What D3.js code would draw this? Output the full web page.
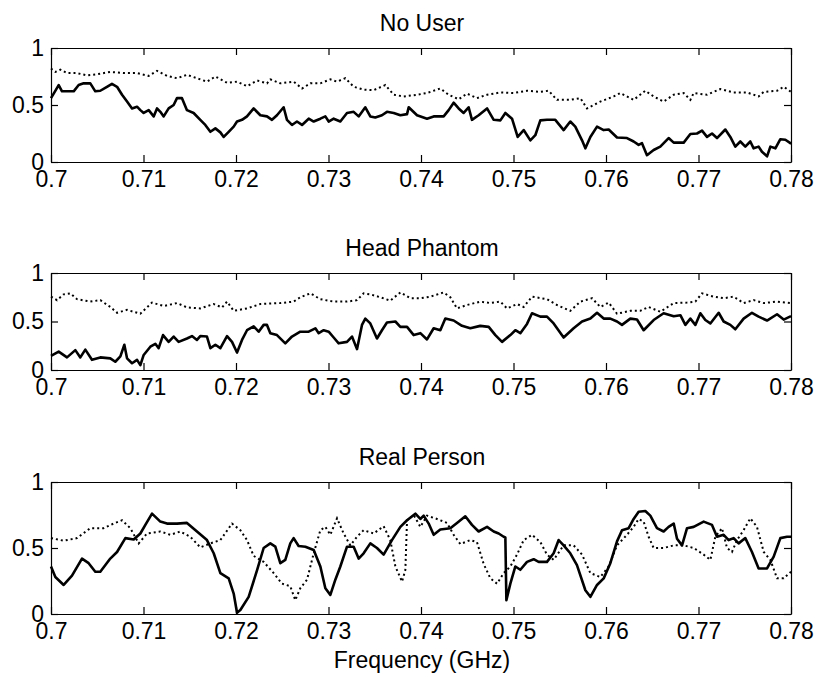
<!DOCTYPE html>
<html>
<head>
<meta charset="utf-8">
<script src="https://cdn.jsdelivr.net/npm/d3@7"></script>
<style>
  body { margin: 0; background: #fff; }
  svg { display: block; font-family: "Liberation Sans", Arial, Helvetica, sans-serif; }
</style>
</head>
<body>
<div id="chart"></div>
<script>
// frequency in MHz
const noUserSolid = [
  [700,0.56],[700.29,0.60],[700.83,0.675],[701.19,0.62],[701.73,0.62],[702.45,0.62],[702.99,0.675],[703.53,0.69],[704.25,0.69],[704.79,0.62],
  [705.33,0.625],[706.05,0.66],[706.59,0.685],[707.14,0.66],[707.68,0.59],[708.22,0.53],[708.76,0.47],[709.30,0.485],[709.66,0.455],[710.02,0.43],
  [710.56,0.455],[711.10,0.40],[711.46,0.47],[711.82,0.44],[712.18,0.40],[712.72,0.47],[713.26,0.50],[713.62,0.56],[714.16,0.56],[714.70,0.455],
  [715.42,0.43],[716.14,0.37],[716.68,0.325],[717.23,0.265],[717.77,0.295],[718.31,0.26],[718.67,0.22],[719.21,0.265],[719.75,0.31],[720.11,0.355],
  [720.65,0.37],[721.19,0.40],[721.91,0.47],[722.63,0.41],[723.35,0.40],[723.89,0.37],[724.43,0.41],[725.15,0.48],[725.51,0.37],[726.05,0.325],
  [726.59,0.355],[727.14,0.325],[727.86,0.38],[728.40,0.355],[729.12,0.38],[729.66,0.40],[730.02,0.355],[730.56,0.38],[731.28,0.355],[732.00,0.43],
  [732.72,0.44],[733.26,0.40],[733.98,0.48],[734.52,0.40],[735.06,0.39],[735.78,0.41],[736.32,0.44],[737.05,0.43],[737.77,0.41],[738.49,0.42],
  [738.67,0.48],[739.57,0.41],[740.65,0.38],[741.37,0.40],[742.45,0.40],[742.99,0.455],[743.53,0.52],[744.07,0.47],[744.61,0.43],[745.15,0.48],
  [745.51,0.37],[746.23,0.41],[747.14,0.47],[747.86,0.37],[748.58,0.365],[749.12,0.43],[749.84,0.38],[750.45,0.22],[751.10,0.28],[751.82,0.19],
  [752.36,0.235],[752.90,0.365],[753.62,0.37],[754.52,0.37],[755.42,0.28],[756.14,0.355],[756.68,0.31],[757.41,0.19],[757.77,0.12],[758.31,0.22],
  [759.03,0.31],[759.75,0.28],[760.29,0.285],[761.19,0.215],[762.27,0.21],[762.99,0.18],[763.53,0.15],[763.89,0.165],[764.43,0.06],[765.15,0.105],
  [765.87,0.135],[766.77,0.21],[767.32,0.17],[768.40,0.17],[769.12,0.245],[769.84,0.25],[770.38,0.275],[770.92,0.22],[771.46,0.25],[772.00,0.21],
  [772.90,0.285],[773.44,0.22],[773.98,0.135],[774.52,0.18],[775.06,0.135],[775.60,0.18],[775.96,0.12],[776.50,0.135],[776.86,0.09],[777.41,0.05],
  [777.77,0.135],[778.31,0.12],[778.85,0.20],[779.39,0.195],[779.93,0.165],[780,0.165]
];
const noUserDotted = [
  [700,0.82],[700.47,0.79],[701.01,0.81],[701.73,0.78],[702.81,0.78],[703.89,0.76],[704.97,0.77],[706.41,0.79],[707.86,0.78],[709.30,0.78],
  [710.56,0.755],[711.46,0.80],[712.54,0.755],[713.62,0.735],[714.70,0.765],[715.78,0.735],[716.86,0.705],[717.77,0.75],[719.03,0.695],[720.11,0.705],
  [721.19,0.665],[722.27,0.715],[723.35,0.69],[723.71,0.725],[724.79,0.69],[726.23,0.705],[727.14,0.645],[728.04,0.69],[729.12,0.69],[730.20,0.725],
  [730.92,0.705],[731.82,0.735],[732.72,0.66],[733.80,0.635],[734.88,0.63],[736.14,0.675],[737.05,0.59],[738.13,0.575],[739.57,0.59],
  [740.65,0.605],[742.09,0.645],[742.99,0.59],[744.07,0.55],[744.97,0.60],[746.05,0.56],[747.14,0.59],[748.58,0.61],[750.02,0.605],[751.46,0.625],
  [752.90,0.615],[753.80,0.625],[754.70,0.545],[756.14,0.545],[757.23,0.56],[757.95,0.47],[759.39,0.53],[760.83,0.575],[761.55,0.605],[762.99,0.545],
  [764.25,0.625],[765.15,0.575],[766.23,0.53],[767.32,0.59],[768.40,0.605],[769.12,0.545],[769.48,0.605],[770.92,0.59],[772.36,0.64],[773.80,0.61],
  [775.24,0.61],[776.50,0.575],[777.05,0.615],[778.49,0.625],[779.21,0.66],[780,0.615]
];
const headSolid = [
  [700,0.145],[700.83,0.19],[701.73,0.13],[702.63,0.205],[703.17,0.13],[703.71,0.21],[704.43,0.105],[705.33,0.13],[706.41,0.12],[706.95,0.085],
  [707.50,0.14],[707.93,0.26],[708.22,0.12],[708.76,0.07],[709.30,0.105],[709.66,0.05],[710.02,0.155],[710.74,0.24],[711.28,0.27],[711.64,0.225],
  [712.11,0.36],[712.72,0.29],[713.26,0.345],[713.80,0.29],[714.70,0.325],[715.24,0.35],[715.78,0.31],[716.14,0.35],[716.86,0.345],[717.23,0.225],
  [717.77,0.26],[718.31,0.225],[719.03,0.35],[719.57,0.29],[720.11,0.18],[720.65,0.31],[721.19,0.41],[721.91,0.45],[722.45,0.395],[722.99,0.465],
  [723.35,0.465],[723.71,0.38],[724.43,0.36],[725.33,0.275],[726.05,0.345],[726.95,0.395],[727.86,0.395],[728.58,0.43],[728.94,0.38],[729.48,0.41],
  [730.02,0.395],[730.56,0.335],[731.10,0.275],[732.00,0.29],[732.54,0.345],[733.08,0.215],[733.62,0.465],[733.98,0.53],[734.52,0.48],[735.24,0.325],
  [735.78,0.41],[736.32,0.49],[737.23,0.50],[737.77,0.445],[738.49,0.445],[739.21,0.36],[739.93,0.38],
  [740.65,0.315],[741.37,0.43],[742.09,0.41],[742.63,0.53],[743.53,0.51],[744.43,0.455],[745.33,0.43],[746.41,0.455],[747.32,0.445],[748.04,0.36],
  [748.76,0.29],[749.66,0.36],[750.20,0.41],[750.74,0.38],[751.46,0.475],[752.00,0.585],[752.90,0.55],[753.62,0.55],[754.34,0.48],[755.42,0.335],
  [756.50,0.43],[757.41,0.50],[758.31,0.53],[759.03,0.59],[759.75,0.53],[760.47,0.53],[761.19,0.50],[761.73,0.465],[762.63,0.53],[763.35,0.52],
  [764.07,0.41],[765.15,0.515],[766.23,0.585],[767.32,0.555],[768.04,0.565],[768.58,0.465],[769.12,0.53],[769.66,0.465],[770.20,0.585],[770.74,0.515],
  [771.28,0.48],[772.18,0.59],[772.72,0.50],[773.44,0.465],[773.98,0.42],[774.88,0.53],[775.78,0.59],[776.50,0.55],[777.41,0.51],[778.49,0.575],
  [779.21,0.52],[780,0.555]
];
const headDotted = [
  [700,0.756],[700.65,0.72],[701.37,0.78],[702.09,0.79],[702.81,0.73],[704.25,0.705],[705.33,0.72],[706.41,0.65],[707.14,0.59],[708.22,0.62],
  [709.66,0.58],[710.92,0.695],[712.18,0.66],[713.62,0.69],[714.70,0.645],[716.14,0.635],[717.59,0.68],[718.49,0.645],[719.03,0.705],[719.75,0.61],
  [721.19,0.635],[722.63,0.68],[724.79,0.69],[726.23,0.705],[726.95,0.75],[728.04,0.79],[729.12,0.73],[730.56,0.705],[732.00,0.705],[733.08,0.72],
  [733.80,0.79],[734.52,0.78],[735.60,0.75],[736.68,0.715],[737.77,0.80],[738.85,0.74],[739.93,0.74],
  [741.01,0.756],[742.45,0.80],[743.17,0.75],[743.89,0.635],[744.97,0.67],[746.41,0.705],[747.50,0.69],[748.58,0.705],[749.30,0.635],[750.38,0.68],
  [751.10,0.65],[752.00,0.756],[753.62,0.73],[754.70,0.67],[756.14,0.61],[757.23,0.705],[758.49,0.74],[759.39,0.65],[760.29,0.695],[761.19,0.58],
  [762.63,0.61],[763.71,0.61],[764.61,0.65],[765.87,0.60],[767.32,0.69],[768.76,0.695],[769.66,0.705],[770.38,0.79],[771.64,0.756],[772.72,0.74],
  [773.80,0.756],[774.88,0.69],[775.96,0.72],[777.05,0.69],[778.49,0.705],[780,0.69]
];
const personSolid = [
  [700,0.36],[700.47,0.28],[701.37,0.22],[702.27,0.29],[703.35,0.42],[704.07,0.385],[704.79,0.32],[705.33,0.32],[706.41,0.42],[707.14,0.47],
  [708.04,0.575],[708.94,0.565],[709.66,0.61],[710.20,0.675],[710.92,0.76],[711.82,0.70],[712.54,0.685],[713.62,0.685],[714.70,0.69],[715.78,0.625],
  [716.86,0.56],[717.59,0.46],[718.31,0.31],[719.21,0.27],[719.75,0.155],[720.11,0.01],[720.47,0.03],[721.37,0.13],[722.27,0.33],[722.99,0.50],
  [723.71,0.535],[724.25,0.51],[724.79,0.385],[725.33,0.41],[725.87,0.535],[726.23,0.575],[726.77,0.515],[727.50,0.51],[728.40,0.485],[729.12,0.36],
  [729.66,0.195],[730.20,0.145],[730.74,0.26],[731.28,0.36],[732.00,0.51],[732.72,0.51],[733.26,0.42],[733.80,0.46],[734.52,0.535],[735.24,0.50],
  [735.96,0.45],[736.86,0.56],[737.77,0.66],[738.49,0.71],[739.39,0.76],[739.93,0.72],
  [740.29,0.745],[740.83,0.685],[741.37,0.60],[742.09,0.64],[743.17,0.65],[743.89,0.69],[744.79,0.74],[745.51,0.675],[746.23,0.625],[747.14,0.66],
  [747.86,0.625],[748.40,0.61],[748.94,0.585],[749.12,0.58],[749.23,0.105],[749.66,0.23],[750.20,0.36],[750.74,0.335],[751.46,0.395],[752.18,0.415],
  [752.72,0.395],[753.62,0.395],[754.34,0.46],[754.88,0.56],[755.42,0.52],[756.14,0.46],[756.86,0.37],[757.77,0.18],[758.31,0.13],[759.03,0.22],
  [759.75,0.27],[760.47,0.385],[761.19,0.55],[761.73,0.635],[762.45,0.65],[762.99,0.72],[763.53,0.775],[764.25,0.78],[764.79,0.745],[765.51,0.65],
  [766.23,0.625],[766.77,0.66],[767.32,0.685],[767.68,0.57],[768.22,0.52],[768.76,0.65],[769.48,0.66],[770.56,0.70],[771.46,0.675],[772.00,0.585],
  [772.72,0.60],[773.26,0.56],[773.80,0.575],[774.34,0.535],[775.06,0.575],[775.78,0.47],[776.50,0.345],[777.41,0.345],[778.13,0.435],[778.85,0.575],
  [779.57,0.585],[780,0.585]
];
const personDotted = [
  [700,0.575],[701.37,0.555],[702.81,0.575],[704.25,0.65],[705.69,0.65],[706.77,0.685],[707.68,0.71],[708.58,0.65],[709.48,0.535],[710.38,0.61],
  [711.82,0.625],[712.90,0.60],[713.98,0.625],[715.06,0.585],[716.14,0.505],[717.23,0.535],[718.31,0.56],[719.57,0.685],[720.47,0.635],[721.19,0.56],
  [721.91,0.44],[722.99,0.395],[724.07,0.31],[724.97,0.23],[725.87,0.21],[726.41,0.105],[726.95,0.195],[727.68,0.26],[728.40,0.46],[729.12,0.635],
  [729.66,0.66],[730.20,0.60],[730.92,0.725],[731.64,0.61],[732.36,0.52],[733.08,0.585],[733.80,0.635],[734.88,0.61],[735.96,0.665],[736.68,0.56],
  [737.23,0.36],[737.95,0.245],[738.31,0.335],[738.49,0.71],[739.21,0.75],[739.93,0.66],
  [740.65,0.745],[741.73,0.72],[742.81,0.69],[743.53,0.60],[744.25,0.53],[745.33,0.56],[746.05,0.545],[746.77,0.38],[747.50,0.27],[748.22,0.23],
  [748.94,0.31],[749.66,0.36],[750.38,0.45],[751.10,0.56],[752.00,0.60],[752.90,0.545],[753.62,0.45],[754.34,0.41],[755.42,0.52],[756.50,0.52],
  [757.41,0.45],[758.31,0.31],[759.39,0.28],[760.29,0.36],[761.19,0.52],[762.27,0.60],[762.99,0.66],[763.53,0.72],[764.07,0.70],[764.61,0.585],
  [765.15,0.50],[766.23,0.50],[767.32,0.52],[768.40,0.52],[769.48,0.50],[770.56,0.45],[771.28,0.41],[771.82,0.585],[772.54,0.65],[773.08,0.50],
  [773.62,0.47],[774.16,0.56],[774.88,0.635],[775.60,0.725],[776.32,0.66],[777.05,0.47],[777.77,0.41],[778.49,0.27],[779.21,0.27],[780,0.32]
];

const panelTitles = ["No User", "Head Phantom", "Real Person"];
const xTicks = [0.7, 0.71, 0.72, 0.73, 0.74, 0.75, 0.76, 0.77, 0.78];
const yTicks = [0, 0.5, 1];
const xLabel = "Frequency (GHz)";

const panels = [
  { title: panelTitles[0], solid: noUserSolid, dotted: noUserDotted, top: 48, bottom: 162 },
  { title: panelTitles[1], solid: headSolid, dotted: headDotted, top: 273, bottom: 370 },
  { title: panelTitles[2], solid: personSolid, dotted: personDotted, top: 482, bottom: 614 }
];

const width = 818, height = 677;
const left = 51, right = 791;
const fontSize = 23;

const svg = d3.select("#chart").append("svg")
  .attr("width", width)
  .attr("height", height);

const x = d3.scaleLinear().domain([0.7, 0.78]).range([left, right]);

panels.forEach(p => {
  const y = d3.scaleLinear().domain([0, 1]).range([p.bottom, p.top]);
  const g = svg.append("g");

  const line = d3.line()
    .x(d => x(d[0] / 1000))
    .y(d => y(d[1]));

  // dotted series
  g.append("path")
    .datum(p.dotted)
    .attr("fill", "none")
    .attr("stroke", "#000")
    .attr("stroke-width", 2)
    .attr("stroke-dasharray", "2,3")
    .attr("d", line);

  // solid series
  g.append("path")
    .datum(p.solid)
    .attr("fill", "none")
    .attr("stroke", "#000")
    .attr("stroke-width", 2.6)
    .attr("stroke-linejoin", "round")
    .attr("d", line);

  // axes, ticks point inwards on every side
  const fmt = d => String(d);
  g.append("g")
    .attr("transform", `translate(0,${p.bottom})`)
    .call(d3.axisBottom(x).tickValues(xTicks).tickFormat(fmt).tickSizeInner(-7).tickSizeOuter(0).tickPadding(9));
  g.append("g")
    .attr("transform", `translate(0,${p.top})`)
    .call(d3.axisTop(x).tickValues(xTicks).tickFormat("").tickSizeInner(-7).tickSizeOuter(0));
  g.append("g")
    .attr("transform", `translate(${left},0)`)
    .call(d3.axisLeft(y).tickValues(yTicks).tickFormat(fmt).tickSizeInner(-7).tickSizeOuter(0).tickPadding(7));
  g.append("g")
    .attr("transform", `translate(${right},0)`)
    .call(d3.axisRight(y).tickValues(yTicks).tickFormat("").tickSizeInner(-7).tickSizeOuter(0));

  g.selectAll(".domain, .tick line")
    .attr("stroke", "#000")
    .attr("stroke-width", 1.2);
  g.selectAll(".tick text")
    .attr("fill", "#000")
    .style("font-size", fontSize + "px")
    .style("font-family", "'Liberation Sans', Arial, sans-serif");

  g.append("text")
    .attr("x", (left + right) / 2 + 1)
    .attr("y", p.top - 17)
    .attr("text-anchor", "middle")
    .style("font-size", fontSize + "px")
    .text(p.title);
});

svg.append("text")
  .attr("x", (left + right) / 2 + 1)
  .attr("y", 668)
  .attr("text-anchor", "middle")
  .style("font-size", fontSize + "px")
  .text(xLabel);
</script>
</body>
</html>
